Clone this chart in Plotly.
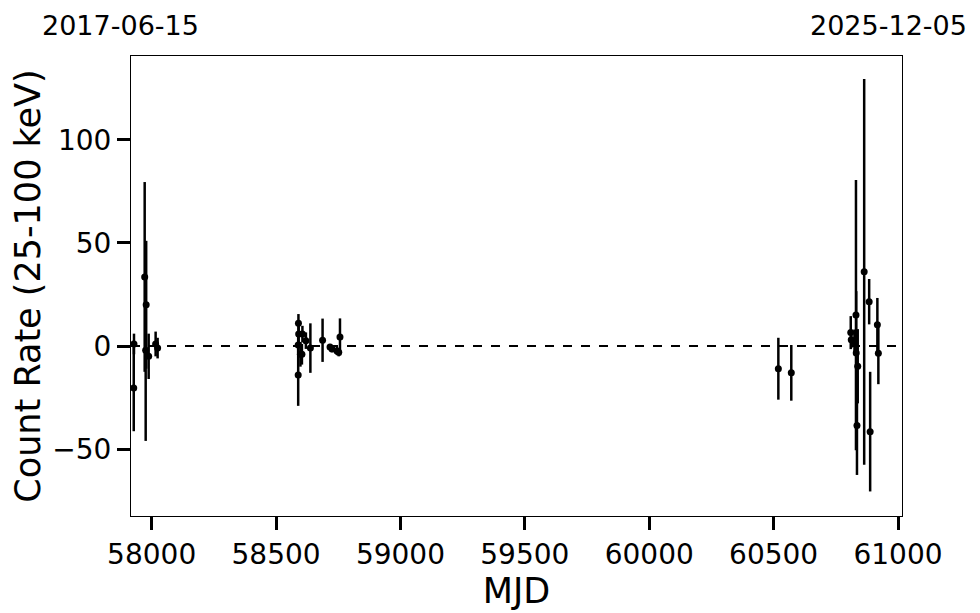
import plotly.graph_objects as go

mjd = [57928, 57929, 57972, 57978, 57976, 57988, 58016, 58024,
       58590, 58591, 58589, 58589, 58606, 58598, 58604, 58620, 58638, 58687,
       58717, 58725, 58745, 58752, 58757,
       60519, 60571,
       60810, 60812, 60825, 60831, 60832, 60838, 60835, 60864, 60884, 60888, 60917, 60921]
rate = [-20.3, 1.0, 33.5, 20.0, -2.0, -5.0, 1.0, -1.0,
        11.0, 5.8, 0.5, -14.0, 5.8, -4.0, -4.0, 2.6, -1.0, 2.8,
        -0.5, -1.5, -2.4, -3.0, 4.4,
        -11.0, -13.0,
        6.5, 3.0, 2.0, 15.0, -3.4, -9.8, -38.5, 36.0, 21.5, -41.5, 10.3, -3.5]
err = [21.0, 5.0, 46.0, 31.0, 44.0, 11.0, 6.0, 5.0,
       4.5, 5.0, 5.0, 15.0, 4.0, 6.0, 5.0, 4.0, 12.0, 10.5,
       1.5, 1.5, 2.0, 2.0, 9.0,
       15.0, 13.5,
       8.0, 4.0, 6.0, 65.5, 30.0, 18.0, 24.0, 93.5, 11.0, 29.0, 13.0, 15.0]

x_ticks = [58000, 58500, 59000, 59500, 60000, 60500, 61000]
y_ticks = [-50, 0, 50, 100]
start_label = "2017-06-15"
end_label = "2025-12-05"
x_range = [57917, 61016]
y_range = [-82.4, 140.6]

fig = go.Figure()
fig.add_trace(go.Scatter(
    x=mjd, y=rate, mode="markers",
    marker=dict(color="black", size=7),
    error_y=dict(type="data", array=err, visible=True, color="black", thickness=2.5, width=0),
    showlegend=False,
))
fig.add_shape(type="line", xref="paper", yref="y", x0=0, x1=1, y0=0, y1=0,
              line=dict(color="black", width=2, dash="dash"))

font_family = "DejaVu Sans"
fig.update_layout(
    width=972, height=605,
    margin=dict(l=120, r=78, t=48, b=96),
    paper_bgcolor="white", plot_bgcolor="white",
    font=dict(family=font_family, color="black"),
    xaxis=dict(range=x_range, tickvals=x_ticks, ticktext=[str(t) for t in x_ticks],
               ticks="outside", ticklen=13, tickwidth=2.5, tickcolor="black",
               tickfont=dict(size=28), showgrid=False, zeroline=False,
               showline=True, linecolor="black", linewidth=1, mirror=True,
               title=dict(text="MJD", font=dict(size=35), standoff=6)),
    yaxis=dict(range=y_range, tickvals=y_ticks, ticktext=["\u221250", "0", "50", "100"],
               ticks="outside", ticklen=13, tickwidth=2.5, tickcolor="black",
               tickfont=dict(size=28), showgrid=False, zeroline=False,
               showline=True, linecolor="black", linewidth=1, mirror=True,
               title=dict(text="Count Rate (25-100 keV)", font=dict(size=35), standoff=8)),
    annotations=[
        dict(text=start_label, xref="paper", yref="paper", x=-0.013, y=1.067,
             xanchor="center", yanchor="middle", showarrow=False, font=dict(size=27)),
        dict(text=end_label, xref="paper", yref="paper", x=0.983, y=1.067,
             xanchor="center", yanchor="middle", showarrow=False, font=dict(size=27)),
    ],
)
fig.write_html("out.html")
